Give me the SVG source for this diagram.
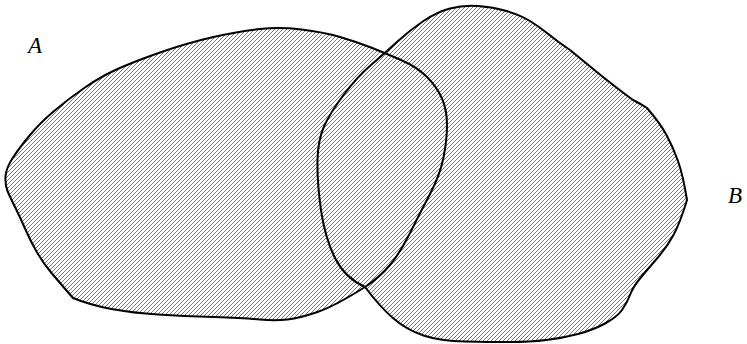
<svg xmlns="http://www.w3.org/2000/svg" width="747" height="344" viewBox="0 0 747 344">
<style>
.region{fill:url(#hatch);stroke:none}
.outline{fill:none;stroke:#000;stroke-width:2;stroke-linejoin:round}
.label{font-family:"Liberation Serif","Times New Roman",serif;font-style:italic;font-size:23px;fill:#000}
.hl{stroke:#666;stroke-width:0.9}
</style>
<defs>
<pattern id="hatch" patternUnits="userSpaceOnUse" width="4" height="4">
<rect width="4" height="4" fill="#fff"/>
<line class="hl" x1="-1" y1="5" x2="5" y2="-1"/>
<line class="hl" x1="-1" y1="1" x2="1" y2="-1"/>
<line class="hl" x1="3" y1="5" x2="5" y2="3"/>
</pattern>
<path id="pA" d="M 365,287 Q 335,306 317.5,312 Q 300,318 287.5,319.5 Q 275,321 260,319.5 Q 245,318 214,317 Q 183,316 158,314.5 Q 133,313 111.5,309 Q 90,305 73,298 Q 60,283 51.5,273 Q 43,263 36.5,251.5 Q 30,240 25,228.5 Q 20,217 15,207 Q 10,197 7.5,191 Q 5,185 5.5,176.5 Q 6,168 13,157.5 Q 20,147 30,135 Q 40,123 53.5,111.5 Q 67,100 83.5,88.5 Q 100,77 116.5,69.5 Q 133,62 160,52.5 Q 187,43 213.5,37 Q 240,31 260,29 Q 280,27 301.5,29.5 Q 323,32 340,37 Q 357,42 371,47.5 Q 385,53 401,60 Q 417,67 427,77 Q 437,87 442,98.5 Q 447,110 447,125 Q 447,140 443.5,157.5 Q 440,175 430,194 Q 420,213 410,233 Q 400,253 390,265 Q 380,277 365,287 Z"/>
<path id="pB" d="M 365,287 Q 345,278 335,258 Q 325,238 321,210 Q 317,182 317.5,160 Q 318,140 324,126.5 Q 330,113 343.5,95 Q 357,77 371,65 Q 385,53 397.5,41.5 Q 410,30 423.5,21 Q 437,12 450,8.5 Q 463,5 478,6 Q 493,7 506.5,11 Q 520,15 530,21 Q 538,26 547,33 Q 558,42 570,50 Q 586,63 603,77 Q 618,89 633,100 Q 641,104 647,108 Q 660,123 666.5,135 Q 673,147 678,161 Q 683,175 687,200 Q 680,223 673.5,235 Q 667,247 657,258.5 Q 647,270 640,278.5 Q 633,287 630,295 Q 627,303 622,310 Q 617,317 605,323.5 Q 593,330 578,334 Q 563,338 546.5,340 Q 530,342 510,342 Q 490,342 465,341.5 Q 440,341 423.5,335.5 Q 407,330 393.5,318.5 Q 380,307 365,287 Z"/>
</defs>
<g id="nodeA">
<use href="#pA" class="region"/>
</g>
<g id="nodeB">
<use href="#pB" class="region"/>
</g>
<g id="outlines">
<use href="#pA" class="outline"/>
<use href="#pB" class="outline"/>
</g>
<g id="labels">
<text class="label" x="28" y="53">A</text>
<text class="label" x="728" y="203">B</text>
</g>
</svg>
